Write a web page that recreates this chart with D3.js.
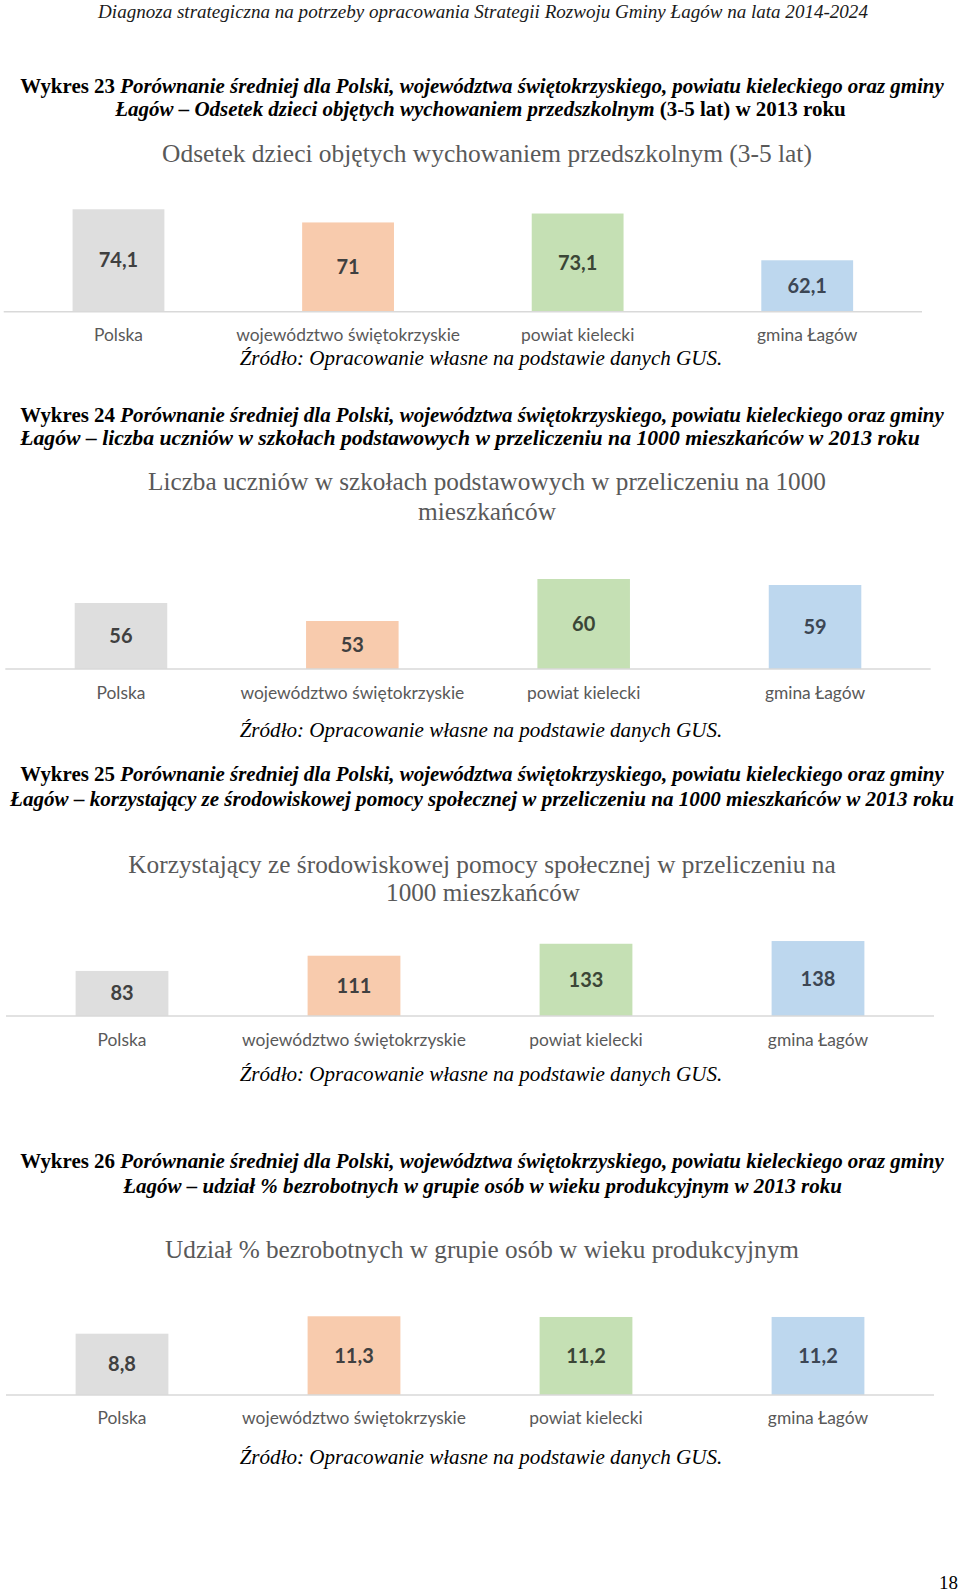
<!DOCTYPE html>
<html>
<head>
<meta charset="utf-8">
<script src="https://cdn.jsdelivr.net/npm/d3@7"></script>
<style>
  body { margin: 0; background: #fff; }
  svg { display: block; }
</style>
</head>
<body>
<script>
// data
var categories = ["Polska", "województwo świętokrzyskie", "powiat kielecki", "gmina Łagów"];
var preschoolValues = [74.1, 71, 73.1, 62.1];
var pupilsValues = [56, 53, 60, 59];
var welfareValues = [83, 111, 133, 138];
var unemployedValues = [8.8, 11.3, 11.2, 11.2];

var barColors = ["#dedede", "#f8cbad", "#c5e0b4", "#bdd7ee"];
var valueColors = ["#404040", "#404040", "#3b4636", "#3c4654"];

var serif = "'Liberation Serif', 'Times New Roman', serif",
    sans = "Lato, 'Open Sans', sans-serif";

var svg = d3.select("body").append("svg")
    .attr("width", 960)
    .attr("height", 1592);

// scale the font so the line gets the wanted width
function fit(sel, width) {
  var fs = parseFloat(sel.style("font-size"));
  var w = sel.node().getComputedTextLength();
  if (w > 0) sel.style("font-size", (fs * width / w) + "px");
  return sel;
}

function line(x, cy, parts, size, width, color) {
  var t = svg.append("text")
      .attr("x", x)
      .attr("y", cy)
      .attr("dy", "0.35em")
      .attr("text-anchor", "middle")
      .style("font-family", serif)
      .style("font-size", size + "px")
      .style("fill", color || "#000");
  parts.forEach(function(p) {
    t.append("tspan")
      .style("font-weight", p.bold ? "bold" : "normal")
      .style("font-style", p.italic ? "italic" : "normal")
      .text(p.text);
  });
  if (width) fit(t, width);
  return t;
}

var charts = [
  {num: 23, values: preschoolValues, domain: [50, 80],
   capY: [86, 109], capX: [482, 480.5], capW: [924, 731],
   cap2: [{text: "Łagów – Odsetek dzieci objętych wychowaniem przedszkolnym ", bold: true, italic: true},
          {text: "(3-5 lat) w 2013 roku", bold: true}],
   title: ["Odsetek dzieci objętych wychowaniem przedszkolnym (3-5 lat)"],
   titleY: [153], titleX: [487], titleW: [650],
   range: [3.7, 922], base: 311.7, top: 184.2, labelY: 335, srcY: 358},
  {num: 24, values: pupilsValues, domain: [45, 65],
   capY: [415, 437], capX: [482, 470], capW: [924, 900],
   cap2: [{text: "Łagów – liczba uczniów w szkołach podstawowych w przeliczeniu na 1000 mieszkańców w 2013 roku", bold: true, italic: true}],
   title: ["Liczba uczniów w szkołach podstawowych w przeliczeniu na 1000", "mieszkańców"],
   titleY: [481, 511], titleX: [487, 487], titleW: [678, 138],
   range: [5.3, 930.7], base: 669, top: 549, labelY: 693, srcY: 730},
  {num: 25, values: welfareValues, domain: [0, 160],
   capY: [774, 799], capX: [482, 482], capW: [924, 944],
   cap2: [{text: "Łagów – korzystający ze środowiskowej pomocy społecznej w przeliczeniu na 1000 mieszkańców w 2013 roku", bold: true, italic: true}],
   title: ["Korzystający ze środowiskowej pomocy społecznej w przeliczeniu na", "1000 mieszkańców"],
   titleY: [864, 892], titleX: [482, 483], titleW: [708, 194],
   range: [6, 934], base: 1016, top: 929.1, labelY: 1040, srcY: 1074},
  {num: 26, values: unemployedValues, domain: [0, 12],
   capY: [1161, 1186], capX: [482, 482.5], capW: [924, 719],
   cap2: [{text: "Łagów – udział % bezrobotnych w grupie osób w wieku produkcyjnym w 2013 roku", bold: true, italic: true}],
   title: ["Udział % bezrobotnych w grupie osób w wieku produkcyjnym"],
   titleY: [1249], titleX: [482], titleW: [634],
   range: [6, 934], base: 1395, top: 1311.4, labelY: 1418, srcY: 1457}
];

// page header
line(483, 11, [{text: "Diagnoza strategiczna na potrzeby opracowania Strategii Rozwoju Gminy Łagów na lata 2014-2024", italic: true}], 16, 770, "#1a1a1a");

var fmt = function(v) { return String(v).replace(".", ","); };

charts.forEach(function(c) {
  // caption above the chart
  line(c.capX[0], c.capY[0], [
    {text: "Wykres " + c.num + " ", bold: true},
    {text: "Porównanie średniej dla Polski, województwa świętokrzyskiego, powiatu kieleckiego oraz gminy", bold: true, italic: true}
  ], 18, c.capW[0]);
  line(c.capX[1], c.capY[1], c.cap2, 18, c.capW[1]);

  // chart title
  c.title.forEach(function(t, i) {
    line(c.titleX[i], c.titleY[i], [{text: t}], 22, c.titleW[i], "#595959");
  });

  var x = d3.scaleBand()
      .domain(categories)
      .range(c.range)
      .paddingInner(0.6)
      .paddingOuter(0.3);

  var y = d3.scaleLinear()
      .domain(c.domain)
      .range([c.base, c.top]);

  var g = svg.append("g");

  g.selectAll(".bar")
      .data(c.values)
    .enter().append("rect")
      .attr("class", "bar")
      .attr("x", function(d, i) { return x(categories[i]); })
      .attr("width", x.bandwidth())
      .attr("y", function(d) { return y(d); })
      .attr("height", function(d) { return y(c.domain[0]) - y(d); })
      .style("fill", function(d, i) { return barColors[i]; });

  // category axis: just the line and the labels
  var axis = g.append("g")
      .attr("transform", "translate(0," + y(c.domain[0]) + ")")
      .call(d3.axisBottom(x).tickSize(0).tickPadding(0));
  axis.select(".domain")
      .attr("d", "M" + c.range[0] + ",0H" + c.range[1])
      .style("stroke", "#d9d9d9")
      .style("stroke-width", 1.5);
  var ticks = axis.selectAll(".tick text")
      .attr("y", c.labelY - y(c.domain[0]))
      .attr("dy", "0.35em")
      .style("font-family", sans)
      .style("font-size", "16px")
      .style("fill", "#595959");
  // size taken from the longest label
  var longest = ticks.filter(function(d) { return d === categories[1]; });
  fit(longest, 224);
  ticks.style("font-size", longest.style("font-size"));

  g.selectAll(".value")
      .data(c.values)
    .enter().append("text")
      .attr("class", "value")
      .attr("x", function(d, i) { return x(categories[i]) + x.bandwidth() / 2; })
      .attr("y", function(d) { return (y(d) + y(c.domain[0])) / 2; })
      .attr("dy", "0.35em")
      .attr("text-anchor", "middle")
      .style("font-family", sans)
      .style("font-weight", "bold")
      .style("font-size", "20px")
      .style("fill", function(d, i) { return valueColors[i]; })
      .text(fmt);

  // source note
  line(481, c.srcY, [{text: "Źródło: Opracowanie własne na podstawie danych GUS.", italic: true}], 18, 483);
});

// page number
svg.append("text")
    .attr("x", 958)
    .attr("y", 1589)
    .attr("text-anchor", "end")
    .style("font-family", serif)
    .style("font-size", "19px")
    .text("18");
</script>
</body>
</html>
